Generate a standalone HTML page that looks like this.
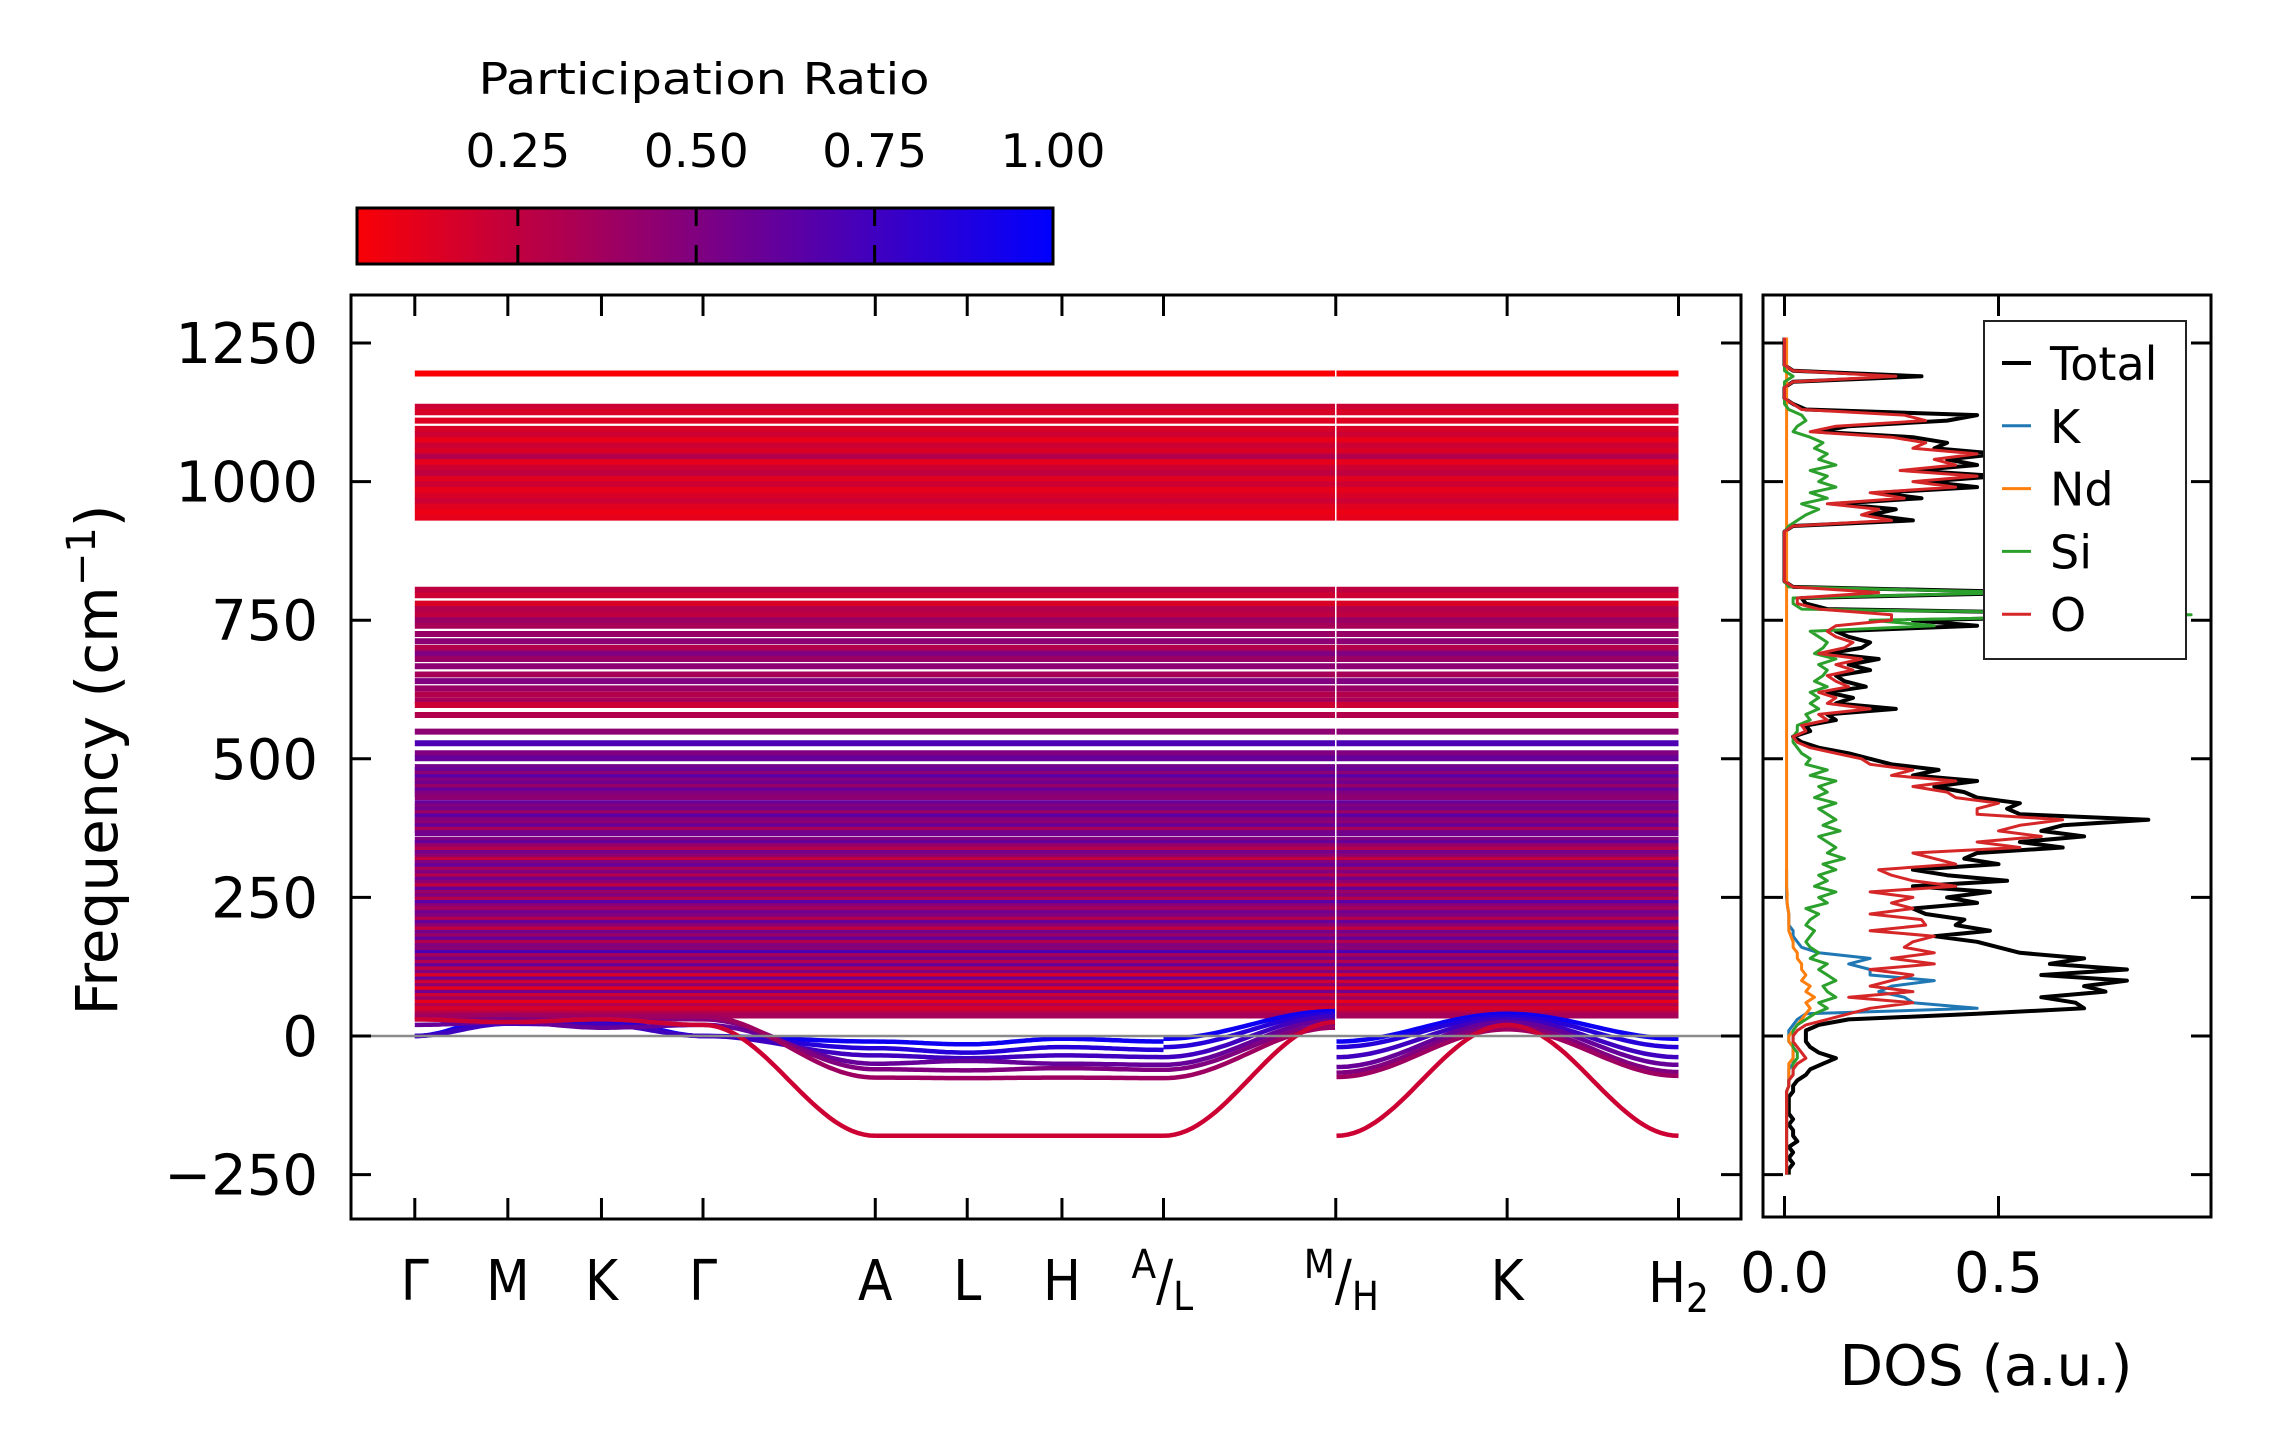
<!DOCTYPE html>
<html><head><meta charset="utf-8"><title>Phonon band structure and DOS</title>
<style>
html,body{margin:0;padding:0;background:#fff;}
svg{display:block;}
text{font-family:"DejaVu Sans","Liberation Sans",sans-serif;fill:#000;}
.cond{font-family:"DejaVu Sans Condensed","DejaVu Sans","Liberation Sans Narrow",sans-serif;}
</style></head>
<body>
<svg id="fig" width="2271" height="1455" viewBox="0 0 2271 1455" xmlns="http://www.w3.org/2000/svg">
<defs>
<linearGradient id="cmap" x1="0" x2="1" y1="0" y2="0">
<stop offset="0" stop-color="rgb(249,0,6)"/><stop offset="1" stop-color="rgb(0,0,255)"/>
</linearGradient>
<clipPath id="clipMain"><rect x="351" y="295" width="1390" height="924"/></clipPath>
<clipPath id="clipDos"><rect x="1763" y="295" width="448" height="922"/></clipPath>
</defs>
<g>
<text class="cond" x="704" y="94" font-size="44" text-anchor="middle" textLength="451" lengthAdjust="spacingAndGlyphs">Participation Ratio</text>
<rect x="357" y="208" width="696" height="56" fill="url(#cmap)" stroke="#000" stroke-width="3"/>
<g id="cbTicks"></g>
</g>
<g id="main">
<g id="bands" clip-path="url(#clipMain)"></g>
<line x1="351" x2="1741" y1="1036" y2="1036" stroke="#8a8a8a" stroke-width="2.5"/>
<rect x="351" y="295" width="1390" height="924" fill="none" stroke="#000" stroke-width="3"/>
<g id="mainTicks"></g>
<text class="cond" transform="translate(117,760) rotate(-90)" font-size="58" text-anchor="middle" textLength="511" lengthAdjust="spacingAndGlyphs">Frequency (cm<tspan dy="-22" font-size="40">−1</tspan><tspan dy="22">)</tspan></text>
</g>
<g id="dos">
<g id="dosLines" clip-path="url(#clipDos)"></g>
<rect x="1763" y="295" width="448" height="922" fill="none" stroke="#000" stroke-width="3"/>
<g id="dosTicks"></g>
<text x="1986" y="1385" font-size="56" text-anchor="middle" textLength="293" lengthAdjust="spacingAndGlyphs">DOS (a.u.)</text>
<g id="legend">
<rect x="1984" y="321" width="202" height="338" fill="#fff" stroke="#222" stroke-width="2"/>
</g>
</g>
</svg>
<script>
const cbTickValues = [0.25, 0.5, 0.75, 1.0];
const cbTickLabels = ["0.25", "0.50", "0.75", "1.00"];
const freqTicks = [-250, 0, 250, 500, 750, 1000, 1250];
const freqTickLabels = ["−250", "0", "250", "500", "750", "1000", "1250"];
const kDist = [0, 0.93, 1.866, 2.881, 4.603, 5.522, 6.469, 7.484, 9.206, 10.919, 12.632];
const kLabels = ["Γ", "M", "K", "Γ", "A", "L", "H", "A/L", "M/H", "K", "H2"];
const dosTicks = [0.0, 0.5];
const dosTickLabels = ["0.0", "0.5"];

const flatFreq = [1195,1135,1125,1110,1095,1085,1075,1065,1055,1045,1035,1025,1015,1005,995,985,975,965,955,945,935,
 805,795,780,770,760,750,740,725,712,700,690,680,667,652,640,627,616,605,597,579,
 549,528,510,501,
 485,479,473,467,461,455,449,443,437,431,420,414,408,402,396,390,384,378,372,366,354,348,342,336,330,324,318,312,306,300,
 294,288,282,276,270,264,258,252,246,240,234,228,222,216,210,204,198,192,186,180,174,168,162,156,150,144,138,132,126,120,
 114,108,102,96,90,84,78,72,66,60,54,48,42,37];
const flatPR = [0.02,0.2,0.15,0.12,0.15,0.2,0.1,0.2,0.15,0.3,0.1,0.2,0.25,0.12,0.2,0.1,0.15,0.2,0.12,0.08,0.1,
 0.25,0.2,0.15,0.3,0.25,0.4,0.35,0.4,0.45,0.3,0.5,0.4,0.45,0.35,0.5,0.4,0.3,0.35,0.2,0.3,
 0.45,0.7,0.5,0.6,
 0.55,0.6,0.45,0.65,0.5,0.55,0.4,0.6,0.5,0.45,0.6,0.5,0.55,0.4,0.65,0.5,0.45,0.6,0.35,0.55,0.5,0.6,0.4,0.3,0.55,0.45,0.25,0.5,0.6,0.35,
 0.5,0.3,0.55,0.45,0.25,0.6,0.4,0.5,0.3,0.65,0.45,0.35,0.55,0.5,0.3,0.6,0.45,0.25,0.55,0.4,0.6,0.3,0.5,0.45,0.7,0.35,0.55,0.3,0.6,0.25,
 0.5,0.15,0.6,0.2,0.45,0.1,0.55,0.2,0.4,0.1,0.3,0.15,0.25,0.35];

const band1 = [0,35,30,0,-10,-15,-5,-10,-5,45,-10,40,-5];
const band2 = [0,28,25,0,-22,-30,-20,-25,-20,40,-20,35,-20];
const band3 = [0,22,20,0,-35,-40,-35,-38,-38,35,-38,30,-38];
const band4 = [20,25,15,20,-50,-45,-50,-52,-52,28,-56,25,-52];
const band5 = [30,30,32,30,-60,-62,-58,-61,-61,20,-66,18,-65];
const band6 = [35,38,35,35,-75,-76,-75,-76,-76,15,-74,12,-72];
const bandDeep = [30,25,30,20,-180,-180,-180,-180,-180,25,-180,20,-180];
const dispBands = [band1, band2, band3, band4, band5, band6, bandDeep];
const dispPR = [0.95, 0.85, 0.75, 0.6, 0.5, 0.38, 0.2];

const dosTotal = [0.01,0.01,0.02,0.01,0.02,0.01,0.03,0.02,0.02,0.01,0.02,0.01,0.01,0.01,0.01,0.02,
 0.02,0.03,0.05,0.06,0.09,0.12,0.08,0.06,0.05,0.05,
 0.05,0.08,0.15,0.45,0.7,0.68,0.6,0.75,0.7,0.8,
 0.6,0.8,0.62,0.7,0.55,0.5,0.45,0.35,0.48,0.4,
 0.42,0.33,0.3,0.45,0.38,0.48,0.3,0.52,0.38,0.3,
 0.5,0.42,0.45,0.65,0.55,0.7,0.6,0.65,0.85,0.55,
 0.52,0.55,0.45,0.42,0.35,0.45,0.3,0.36,0.25,0.2,
 0.15,0.08,0.04,0.02,0.06,0.05,0.12,0.1,0.26,0.12,
 0.16,0.1,0.19,0.14,0.12,0.2,0.15,0.22,0.1,0.18,
 0.2,0.15,0.12,0.45,0.3,0.9,0.1,0.05,0.04,0.6,
 0.02,0,0,0,0,0,0,0,0,0,
 0,0.02,0.3,0.2,0.26,0.12,0.32,0.22,0.45,0.33,
 0.5,0.3,0.45,0.38,0.5,0.35,0.38,0.3,0.08,0.15,
 0.38,0.45,0.05,0.02,0,0,0,0.02,0.32,0.02,
 0,0,0,0,0,0];
const dosO = [0.005,0.005,0.005,0.005,0.005,0.005,0.005,0.005,0.005,0.005,0.005,0.005,0.005,0.005,0.005,0.005,
 0.01,0.01,0.02,0.02,0.03,0.05,0.04,0.03,0.02,0.02,
 0.03,0.05,0.1,0.15,0.2,0.3,0.15,0.3,0.2,0.25,
 0.3,0.2,0.35,0.25,0.35,0.28,0.3,0.35,0.2,0.33,
 0.32,0.2,0.3,0.25,0.3,0.2,0.4,0.3,0.25,0.22,
 0.4,0.35,0.3,0.55,0.45,0.6,0.5,0.55,0.65,0.45,
 0.45,0.5,0.4,0.38,0.3,0.4,0.25,0.3,0.2,0.18,
 0.12,0.06,0.03,0.02,0.05,0.04,0.1,0.08,0.2,0.1,
 0.12,0.08,0.15,0.12,0.1,0.16,0.12,0.18,0.08,0.14,
 0.16,0.12,0.1,0.12,0.25,0.25,0.08,0.03,0.03,0.22,
 0.02,0,0,0,0,0,0,0,0,0,
 0,0.02,0.25,0.18,0.22,0.1,0.28,0.2,0.4,0.3,
 0.45,0.27,0.4,0.35,0.45,0.3,0.33,0.25,0.06,0.12,
 0.33,0.28,0.04,0.02,0,0,0,0.02,0.26,0.02,
 0,0,0,0,0,0];
const dosSi = [0.005,0.005,0.005,0.005,0.005,0.005,0.005,0.005,0.005,0.005,0.005,0.005,0.005,0.005,0.005,0.005,
 0.01,0.01,0.02,0.02,0.02,0.03,0.03,0.02,0.02,0.02,
 0.02,0.03,0.05,0.07,0.1,0.08,0.12,0.1,0.09,0.12,
 0.1,0.08,0.1,0.06,0.08,0.06,0.05,0.06,0.07,0.05,
 0.06,0.08,0.05,0.1,0.08,0.12,0.07,0.1,0.08,0.12,
 0.09,0.14,0.1,0.12,0.1,0.08,0.13,0.09,0.12,0.1,
 0.08,0.12,0.07,0.1,0.08,0.12,0.06,0.1,0.05,0.06,
 0.04,0.03,0.02,0.02,0.03,0.03,0.06,0.05,0.08,0.06,
 0.08,0.06,0.1,0.07,0.09,0.1,0.08,0.12,0.07,0.09,
 0.1,0.08,0.06,0.35,0.2,0.95,0.04,0.02,0.02,0.55,
 0.01,0,0,0,0,0,0,0,0,0,
 0,0.01,0.03,0.05,0.08,0.04,0.1,0.06,0.12,0.08,
 0.1,0.06,0.12,0.08,0.1,0.07,0.09,0.06,0.02,0.03,
 0.05,0.04,0.01,0,0,0,0,0,0.02,0,
 0,0,0,0,0,0];
const dosK = [0.005,0.005,0.005,0.005,0.005,0.005,0.005,0.005,0.005,0.005,0.005,0.005,0.005,0.005,0.005,0.005,
 0.01,0.01,0.01,0.01,0.02,0.02,0.02,0.02,0.01,0.01,
 0.01,0.02,0.03,0.05,0.45,0.3,0.28,0.22,0.25,0.35,
 0.2,0.2,0.15,0.2,0.08,0.04,0.03,0.02,0.02,0.01,
 0.01,0.01,0.008,0.006,0.005,0.005,0.005,0.005,0.005,0.005];
const dosNd = [0.005,0.005,0.005,0.005,0.005,0.005,0.005,0.005,0.005,0.005,0.005,0.005,0.005,0.005,0.005,0.005,
 0.01,0.01,0.01,0.01,0.01,0.02,0.02,0.02,0.01,0.01,
 0.02,0.03,0.04,0.05,0.06,0.05,0.07,0.05,0.06,0.04,
 0.05,0.04,0.04,0.03,0.03,0.02,0.02,0.015,0.01,0.01,
 0.01,0.01,0.008,0.006,0.006,0.006,0.005,0.005,0.005,0.005,
 0.005,0.005,0.005,0.005,0.005,0.005,0.005,0.005,0.005,0.005,
 0.005,0.005,0.005,0.005,0.005,0.005,0.005,0.005,0.005,0.005,
 0.005,0.005,0.005,0.005,0.005,0.005,0.005,0.005,0.005,0.005,
 0.005,0.005,0.005,0.005,0.005,0.005,0.005,0.005,0.005,0.005,
 0.005,0.005,0.005,0.005,0.005,0.005,0.005,0.005,0.005,0.005,
 0.005,0.005,0.005,0.005,0.005,0.005,0.005,0.005,0.005,0.005,
 0.005,0.005,0.005,0.005,0.005,0.005,0.005,0.005,0.005,0.005,
 0.005,0.005,0.005,0.005,0.005,0.005,0.005,0.005,0.005,0.005,
 0.005,0.005,0.005,0.005,0.005,0.005,0.005,0.005,0.005,0.005,
 0.005,0.005,0.005,0.005,0.005,0.005];
const dosFreqStart = -250;
const dosFreqStep = 10;
const legendLabels = ["Total", "K", "Nd", "Si", "O"];

const NS = "http://www.w3.org/2000/svg";
function yF(f){ return 1036 - f * (693 / 1250); }
function xK(d){ return 414.8 + d * 100.04; }
function xD(v){ return 1784.5 + v * 428; }
function xCb(v){ return 357 + (v - 0.0246) * (696 / 0.9754); }
function prColor(p){ return "rgb(" + Math.round(255*(1-p)) + ",0," + Math.round(255*p) + ")"; }
function mk(tag, attrs, parent){ const e = document.createElementNS(NS, tag); for (const k in attrs) e.setAttribute(k, attrs[k]); parent.appendChild(e); return e; }

const cbG = document.getElementById("cbTicks");
cbTickValues.forEach((v, i) => {
  const x = xCb(v);
  if (v < 0.99) {
    const t1 = mk("line", {x1:x, x2:x, y1:209, y2:226, stroke:"#000", "stroke-width":3}, cbG);
    
    
    const t2 = mk("line", {x1:x, x2:x, y1:245, y2:263, stroke:"#000", "stroke-width":3}, cbG);
    
    
  }
  const tx = mk("text", {x:x, y:167, "font-size":46, "text-anchor":"middle", "class":"cond", textLength:105, lengthAdjust:"spacingAndGlyphs"}, cbG);
  tx.textContent = cbTickLabels[i];
  
  
});

const bandsG = document.getElementById("bands");
const groups = [[0,7],[7,8],[8,10]];
flatFreq.forEach((f, i) => {
  groups.forEach((g, gi) => {
    const x1 = xK(kDist[g[0]]) + (gi === 2 ? 0.75 : 0);
    const x2 = xK(kDist[g[1]]) - (gi === 1 ? 0.75 : 0);
    const l = mk("line", {x1:x1, x2:x2, y1:yF(f), y2:yF(f), stroke:prColor(flatPR[i]), "stroke-width":6}, bandsG);
    
    
  });
});
const segs = [[0,1,0,1],[1,2,1,2],[2,3,2,3],[3,4,3,4],[4,5,4,5],[5,6,5,6],[6,7,6,7],[7,8,8,9],[8,9,10,11],[9,10,11,12]];
dispBands.forEach((b, bi) => {
  let d = "";
  segs.forEach(s => {
    const xa = xK(kDist[s[0]]) + (s[0] === 8 ? 0.75 : 0), xb = xK(kDist[s[1]]) - (s[1] === 8 ? 0.75 : 0);
    const fa = b[s[2]], fb = b[s[3]];
    const n = 30;
    for (let j = 0; j <= n; j++) {
      const t = j / n, w = (1 - Math.cos(Math.PI * t)) / 2;
      const x = xa + (xb - xa) * t, y = yF(fa + (fb - fa) * w);
      d += (j === 0 ? "M" : "L") + x.toFixed(1) + "," + y.toFixed(1);
    }
  });
  const p = mk("path", {d:d, fill:"none", stroke:prColor(dispPR[bi]), "stroke-width":4.5}, bandsG);
  
  
});

const mt = document.getElementById("mainTicks");
freqTicks.forEach((f, i) => {
  const y = yF(f);
  const a = mk("line", {x1:351, x2:371, y1:y, y2:y, stroke:"#000", "stroke-width":3}, mt);
  
  
  const b = mk("line", {x1:1721, x2:1741, y1:y, y2:y, stroke:"#000", "stroke-width":3}, mt);
  
  
  const t = mk("text", {x:318, y:y + 20, "font-size":56, "text-anchor":"end"}, mt);
  t.textContent = freqTickLabels[i];
  
  
});
kDist.forEach((d, i) => {
  const x = xK(d);
  const a = mk("line", {x1:x, x2:x, y1:295, y2:316, stroke:"#000", "stroke-width":3}, mt);
  
  
  const b = mk("line", {x1:x, x2:x, y1:1198, y2:1219, stroke:"#000", "stroke-width":3}, mt);
  
  
  const lab = kLabels[i];
  let t;
  if (lab.indexOf("/") > 0) {
    const parts = lab.split("/");
    t = mk("text", {x:x - 22, y:1300, "font-size":56, "text-anchor":"start", "class":"cond"}, mt);
    const s1 = document.createElementNS(NS, "tspan"); s1.setAttribute("font-size", 40); s1.setAttribute("dy", -22); s1.setAttribute("dx", -10); s1.textContent = parts[0]; t.appendChild(s1);
    const s2 = document.createElementNS(NS, "tspan"); s2.setAttribute("dy", 22); s2.textContent = "/"; t.appendChild(s2);
    const s3 = document.createElementNS(NS, "tspan"); s3.setAttribute("font-size", 40); s3.setAttribute("dy", 10); s3.textContent = parts[1]; t.appendChild(s3);
  } else if (lab === "H2") {
    t = mk("text", {x:x, y:1302, "font-size":56, "text-anchor":"middle", "class":"cond"}, mt);
    t.appendChild(document.createTextNode("H"));
    const s = document.createElementNS(NS, "tspan"); s.setAttribute("font-size", 40); s.setAttribute("dy", 10); s.textContent = "2"; t.appendChild(s);
  } else {
    t = mk("text", {x:x, y:1300, "font-size":56, "text-anchor":"middle", "class":"cond"}, mt);
    t.textContent = lab;
  }
  
  
});

const dl = document.getElementById("dosLines");
const series = [[dosTotal,"#000000",4],[dosK,"#1f77b4",3],[dosNd,"#ff7f0e",3],[dosSi,"#2ca02c",3],[dosO,"#d62728",3]];
const seriesNames = ["dos-total-line","dos-k-line","dos-nd-line","dos-si-line","dos-o-line"];
series.forEach((s, si) => {
  let d = "";
  s[0].forEach((v, i) => {
    const f = dosFreqStart + i * dosFreqStep;
    d += (i === 0 ? "M" : "L") + xD(v).toFixed(1) + "," + yF(f).toFixed(1);
  });
  const p = mk("path", {d:d, fill:"none", stroke:s[1], "stroke-width":s[2], "stroke-linejoin":"round"}, dl);
  
  
});
const dt = document.getElementById("dosTicks");
freqTicks.forEach(f => {
  const y = yF(f);
  const a = mk("line", {x1:1763, x2:1783, y1:y, y2:y, stroke:"#000", "stroke-width":3}, dt);
  
  
  const b = mk("line", {x1:2191, x2:2211, y1:y, y2:y, stroke:"#000", "stroke-width":3}, dt);
  
  
});
dosTicks.forEach((v, i) => {
  const x = xD(v);
  const a = mk("line", {x1:x, x2:x, y1:295, y2:316, stroke:"#000", "stroke-width":3}, dt);
  
  
  const b = mk("line", {x1:x, x2:x, y1:1196, y2:1217, stroke:"#000", "stroke-width":3}, dt);
  
  
  const t = mk("text", {x:x, y:1292, "font-size":56, "text-anchor":"middle"}, dt);
  t.textContent = dosTickLabels[i];
  
  
});
const lg = document.getElementById("legend");
legendLabels.forEach((lab, i) => {
  const y = 363 + i * 62.8;
  const l = mk("line", {x1:2002, x2:2031, y1:y, y2:y, stroke:series[i][1], "stroke-width":i === 0 ? 4 : 3}, lg);
  
  
  const t = mk("text", {x:2050, y:y + 17, "font-size":46}, lg);
  t.textContent = lab;
  
  
});
</script>
</body></html>
